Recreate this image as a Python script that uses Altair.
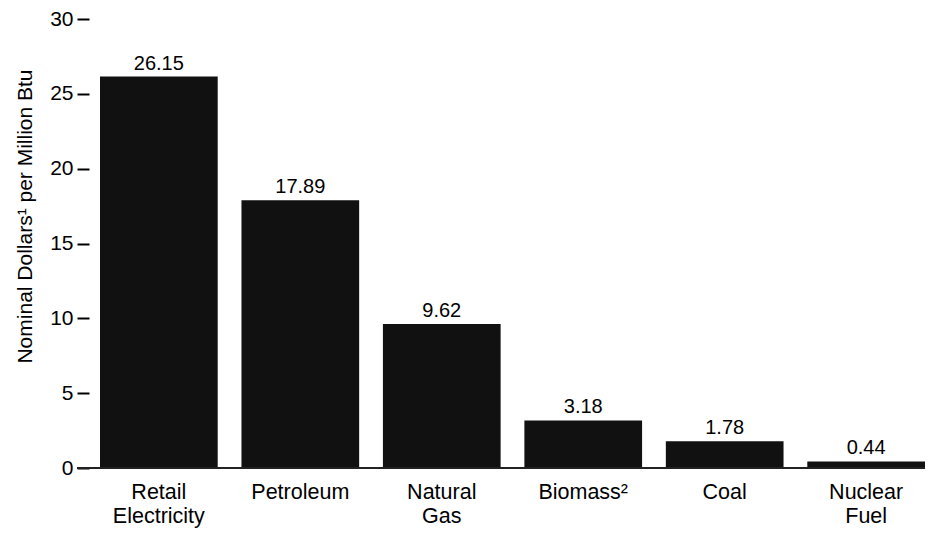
import altair as alt
import pandas as pd

categories = ["Retail Electricity", "Petroleum", "Natural Gas", "Biomass²", "Coal", "Nuclear Fuel"]
values = [26.15, 17.89, 9.62, 3.18, 1.78, 0.44]
y_ticks = [0, 5, 10, 15, 20, 25, 30]
y_title = "Nominal Dollars¹ per Million Btu"

df = pd.DataFrame({"category": categories, "value": values,
                   "label": [f"{v:.2f}" for v in values]})

FONT = "Liberation Sans"
W, H = 825, 449

x = alt.X("category:N", sort=categories, title=None,
          scale=alt.Scale(paddingInner=0.168, paddingOuter=0),
          axis=alt.Axis(labelAngle=0, ticks=False, domain=False,
                        labelFont=FONT, labelFontSize=21.5, labelColor="#000000",
                        labelPadding=13, labelLineHeight=24,
                        labelExpr="split(datum.label, ' ')"))
y = alt.Y("value:Q", title=y_title,
          scale=alt.Scale(domain=[0, 30], nice=False, zero=True),
          axis=alt.Axis(values=y_ticks, domain=False, grid=False, tickSize=12, tickWidth=2,
                        offset=11, tickColor="#000000", labelFont=FONT, labelFontSize=21,
                        labelColor="#000000", labelPadding=4,
                        titleFont=FONT, titleFontSize=21, titleFontWeight="normal",
                        titleColor="#000000", titleAngle=-90, titleBaseline="middle",
                        titleAlign="center", titleX=-64, titleY=197))

bars = alt.Chart(df).mark_bar(color="#111111").encode(x=x, y=y)
texts = alt.Chart(df).mark_text(font=FONT, fontSize=20, color="#000000",
                                baseline="alphabetic", dy=-7).encode(
    x=alt.X("category:N", sort=categories),
    y=alt.Y("value:Q", title=y_title),
    text="label:N")
baseline = alt.Chart(df).mark_rule(color="#222222", strokeWidth=2).encode(
    x=alt.value(-23), x2=alt.value(W), y=alt.datum(0))

chart = (bars + texts + baseline).properties(
    width=W, height=H,
    autosize=alt.AutoSizeParams(type="none"),
    padding={"left": 92, "top": 11, "right": 0, "bottom": 60},
).configure_view(stroke=None)

chart.save("out.html", embed_options={"renderer": "svg", "actions": False})
